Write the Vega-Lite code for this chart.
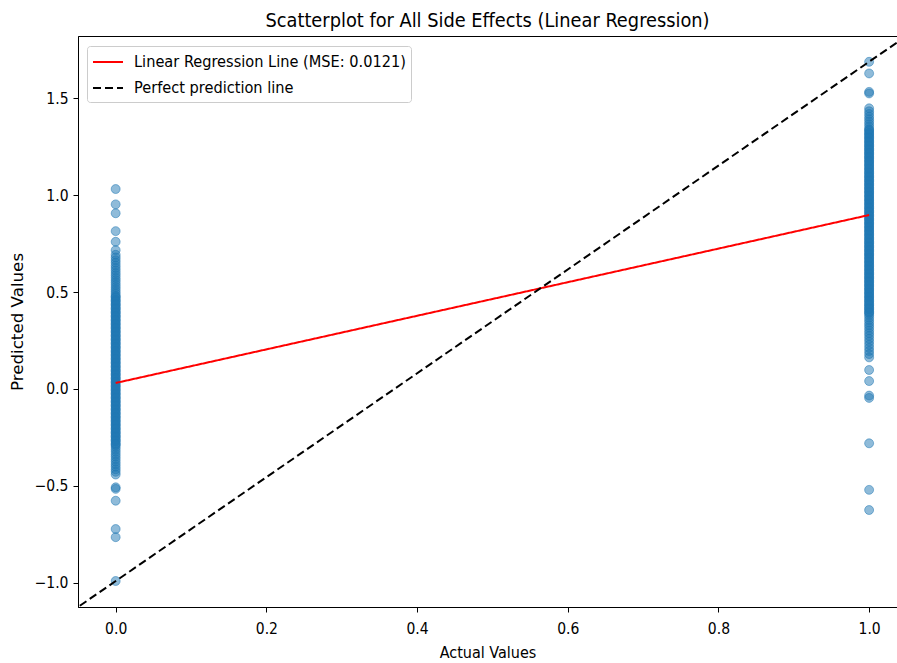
{
  "$schema": "https://vega.github.io/schema/vega-lite/v6.json",
  "width": 819,
  "height": 571,
  "autosize": {"type": "none"},
  "padding": {"left": 78, "top": 36, "right": 0, "bottom": 56},
  "background": "white",
  "config": {
    "font": "DejaVu Sans Condensed",
    "view": {"stroke": "#000", "strokeWidth": 1},
    "axis": {"grid": false, "domainColor": "#000", "tickColor": "#000", "labelColor": "#000", "titleColor": "#000", "titleFontWeight": "normal", "labelFont": "DejaVu Sans Condensed", "titleFont": "DejaVu Sans Condensed"}
  },
  "title": {"text": "Scatterplot for All Side Effects (Linear Regression)", "font": "DejaVu Sans Condensed", "fontSize": 19.8, "fontWeight": "normal", "color": "#000", "anchor": "middle", "baseline": "alphabetic", "offset": 10, "dy": 21},
  "datasets": {
    "points": [
      {"actual": 0, "predicted": 1.031}, {"actual": 0, "predicted": 0.952}, {"actual": 0, "predicted": 0.906}, {"actual": 0, "predicted": 0.814}, {"actual": 0, "predicted": 0.759}, {"actual": 0, "predicted": 0.716},
      {"actual": 0, "predicted": 0.692}, {"actual": 0, "predicted": 0.678}, {"actual": 0, "predicted": 0.664}, {"actual": 0, "predicted": 0.651}, {"actual": 0, "predicted": 0.637}, {"actual": 0, "predicted": 0.624}, {"actual": 0, "predicted": 0.611}, {"actual": 0, "predicted": 0.598}, {"actual": 0, "predicted": 0.586}, {"actual": 0, "predicted": 0.573}, {"actual": 0, "predicted": 0.561}, {"actual": 0, "predicted": 0.549}, {"actual": 0, "predicted": 0.537}, {"actual": 0, "predicted": 0.525}, {"actual": 0, "predicted": 0.513}, {"actual": 0, "predicted": 0.502}, {"actual": 0, "predicted": 0.491},
      {"actual": 0, "predicted": 0.48}, {"actual": 0, "predicted": 0.47}, {"actual": 0, "predicted": 0.46}, {"actual": 0, "predicted": 0.45}, {"actual": 0, "predicted": 0.44}, {"actual": 0, "predicted": 0.43}, {"actual": 0, "predicted": 0.42}, {"actual": 0, "predicted": 0.41}, {"actual": 0, "predicted": 0.40}, {"actual": 0, "predicted": 0.39}, {"actual": 0, "predicted": 0.38}, {"actual": 0, "predicted": 0.37}, {"actual": 0, "predicted": 0.36}, {"actual": 0, "predicted": 0.35}, {"actual": 0, "predicted": 0.34}, {"actual": 0, "predicted": 0.33}, {"actual": 0, "predicted": 0.32}, {"actual": 0, "predicted": 0.31}, {"actual": 0, "predicted": 0.30}, {"actual": 0, "predicted": 0.29}, {"actual": 0, "predicted": 0.28}, {"actual": 0, "predicted": 0.27}, {"actual": 0, "predicted": 0.26}, {"actual": 0, "predicted": 0.25}, {"actual": 0, "predicted": 0.24}, {"actual": 0, "predicted": 0.23}, {"actual": 0, "predicted": 0.22}, {"actual": 0, "predicted": 0.21}, {"actual": 0, "predicted": 0.20}, {"actual": 0, "predicted": 0.19}, {"actual": 0, "predicted": 0.18}, {"actual": 0, "predicted": 0.17}, {"actual": 0, "predicted": 0.16}, {"actual": 0, "predicted": 0.15}, {"actual": 0, "predicted": 0.14}, {"actual": 0, "predicted": 0.13}, {"actual": 0, "predicted": 0.12}, {"actual": 0, "predicted": 0.11}, {"actual": 0, "predicted": 0.10}, {"actual": 0, "predicted": 0.09}, {"actual": 0, "predicted": 0.08}, {"actual": 0, "predicted": 0.07}, {"actual": 0, "predicted": 0.06}, {"actual": 0, "predicted": 0.05}, {"actual": 0, "predicted": 0.04}, {"actual": 0, "predicted": 0.03}, {"actual": 0, "predicted": 0.02}, {"actual": 0, "predicted": 0.01}, {"actual": 0, "predicted": 0.0}, {"actual": 0, "predicted": -0.01}, {"actual": 0, "predicted": -0.02}, {"actual": 0, "predicted": -0.03}, {"actual": 0, "predicted": -0.04}, {"actual": 0, "predicted": -0.05}, {"actual": 0, "predicted": -0.06}, {"actual": 0, "predicted": -0.07}, {"actual": 0, "predicted": -0.08}, {"actual": 0, "predicted": -0.09}, {"actual": 0, "predicted": -0.10}, {"actual": 0, "predicted": -0.11}, {"actual": 0, "predicted": -0.12}, {"actual": 0, "predicted": -0.13}, {"actual": 0, "predicted": -0.14}, {"actual": 0, "predicted": -0.15}, {"actual": 0, "predicted": -0.16}, {"actual": 0, "predicted": -0.17}, {"actual": 0, "predicted": -0.18}, {"actual": 0, "predicted": -0.19}, {"actual": 0, "predicted": -0.20}, {"actual": 0, "predicted": -0.21}, {"actual": 0, "predicted": -0.22}, {"actual": 0, "predicted": -0.23}, {"actual": 0, "predicted": -0.24}, {"actual": 0, "predicted": -0.25}, {"actual": 0, "predicted": -0.26}, {"actual": 0, "predicted": -0.27}, {"actual": 0, "predicted": -0.28}, {"actual": 0, "predicted": -0.29}, {"actual": 0, "predicted": -0.30},
      {"actual": 0, "predicted": 0.475}, {"actual": 0, "predicted": 0.455}, {"actual": 0, "predicted": 0.435}, {"actual": 0, "predicted": 0.415}, {"actual": 0, "predicted": 0.395}, {"actual": 0, "predicted": 0.375}, {"actual": 0, "predicted": 0.355}, {"actual": 0, "predicted": 0.335}, {"actual": 0, "predicted": 0.315}, {"actual": 0, "predicted": 0.295}, {"actual": 0, "predicted": 0.275}, {"actual": 0, "predicted": 0.255}, {"actual": 0, "predicted": 0.235}, {"actual": 0, "predicted": 0.215}, {"actual": 0, "predicted": 0.195}, {"actual": 0, "predicted": 0.175}, {"actual": 0, "predicted": 0.155}, {"actual": 0, "predicted": 0.135}, {"actual": 0, "predicted": 0.115}, {"actual": 0, "predicted": 0.095}, {"actual": 0, "predicted": 0.075}, {"actual": 0, "predicted": 0.055}, {"actual": 0, "predicted": 0.035}, {"actual": 0, "predicted": 0.015}, {"actual": 0, "predicted": -0.005}, {"actual": 0, "predicted": -0.025}, {"actual": 0, "predicted": -0.045}, {"actual": 0, "predicted": -0.065}, {"actual": 0, "predicted": -0.085}, {"actual": 0, "predicted": -0.105}, {"actual": 0, "predicted": -0.125}, {"actual": 0, "predicted": -0.145}, {"actual": 0, "predicted": -0.165}, {"actual": 0, "predicted": -0.185}, {"actual": 0, "predicted": -0.205}, {"actual": 0, "predicted": -0.225}, {"actual": 0, "predicted": -0.245}, {"actual": 0, "predicted": -0.265}, {"actual": 0, "predicted": -0.285},
      {"actual": 0, "predicted": -0.312}, {"actual": 0, "predicted": -0.324}, {"actual": 0, "predicted": -0.337}, {"actual": 0, "predicted": -0.349}, {"actual": 0, "predicted": -0.362}, {"actual": 0, "predicted": -0.375}, {"actual": 0, "predicted": -0.388}, {"actual": 0, "predicted": -0.401}, {"actual": 0, "predicted": -0.414}, {"actual": 0, "predicted": -0.427}, {"actual": 0, "predicted": -0.441},
      {"actual": 0, "predicted": -0.507}, {"actual": 0, "predicted": -0.515}, {"actual": 0, "predicted": -0.576}, {"actual": 0, "predicted": -0.722}, {"actual": 0, "predicted": -0.764}, {"actual": 0, "predicted": -0.99},
      {"actual": 1, "predicted": 1.687}, {"actual": 1, "predicted": 1.627}, {"actual": 1, "predicted": 1.532}, {"actual": 1, "predicted": 1.524},
      {"actual": 1, "predicted": 1.447}, {"actual": 1, "predicted": 1.432}, {"actual": 1, "predicted": 1.418}, {"actual": 1, "predicted": 1.404}, {"actual": 1, "predicted": 1.391}, {"actual": 1, "predicted": 1.378}, {"actual": 1, "predicted": 1.365}, {"actual": 1, "predicted": 1.352}, {"actual": 1, "predicted": 1.34},
      {"actual": 1, "predicted": 1.33}, {"actual": 1, "predicted": 1.32}, {"actual": 1, "predicted": 1.31}, {"actual": 1, "predicted": 1.30}, {"actual": 1, "predicted": 1.29}, {"actual": 1, "predicted": 1.28}, {"actual": 1, "predicted": 1.27}, {"actual": 1, "predicted": 1.26}, {"actual": 1, "predicted": 1.25}, {"actual": 1, "predicted": 1.24}, {"actual": 1, "predicted": 1.23}, {"actual": 1, "predicted": 1.22}, {"actual": 1, "predicted": 1.21}, {"actual": 1, "predicted": 1.20}, {"actual": 1, "predicted": 1.19}, {"actual": 1, "predicted": 1.18}, {"actual": 1, "predicted": 1.17}, {"actual": 1, "predicted": 1.16}, {"actual": 1, "predicted": 1.15}, {"actual": 1, "predicted": 1.14}, {"actual": 1, "predicted": 1.13}, {"actual": 1, "predicted": 1.12}, {"actual": 1, "predicted": 1.11}, {"actual": 1, "predicted": 1.10}, {"actual": 1, "predicted": 1.09}, {"actual": 1, "predicted": 1.08}, {"actual": 1, "predicted": 1.07}, {"actual": 1, "predicted": 1.06}, {"actual": 1, "predicted": 1.05}, {"actual": 1, "predicted": 1.04}, {"actual": 1, "predicted": 1.03}, {"actual": 1, "predicted": 1.02}, {"actual": 1, "predicted": 1.01}, {"actual": 1, "predicted": 1.00}, {"actual": 1, "predicted": 0.99}, {"actual": 1, "predicted": 0.98}, {"actual": 1, "predicted": 0.97}, {"actual": 1, "predicted": 0.96}, {"actual": 1, "predicted": 0.95}, {"actual": 1, "predicted": 0.94}, {"actual": 1, "predicted": 0.93}, {"actual": 1, "predicted": 0.92}, {"actual": 1, "predicted": 0.91}, {"actual": 1, "predicted": 0.90}, {"actual": 1, "predicted": 0.89}, {"actual": 1, "predicted": 0.88}, {"actual": 1, "predicted": 0.87}, {"actual": 1, "predicted": 0.86}, {"actual": 1, "predicted": 0.85}, {"actual": 1, "predicted": 0.84}, {"actual": 1, "predicted": 0.83}, {"actual": 1, "predicted": 0.82}, {"actual": 1, "predicted": 0.81}, {"actual": 1, "predicted": 0.80}, {"actual": 1, "predicted": 0.79}, {"actual": 1, "predicted": 0.78}, {"actual": 1, "predicted": 0.77}, {"actual": 1, "predicted": 0.76}, {"actual": 1, "predicted": 0.75}, {"actual": 1, "predicted": 0.74}, {"actual": 1, "predicted": 0.73}, {"actual": 1, "predicted": 0.72}, {"actual": 1, "predicted": 0.71}, {"actual": 1, "predicted": 0.70}, {"actual": 1, "predicted": 0.69}, {"actual": 1, "predicted": 0.68}, {"actual": 1, "predicted": 0.67}, {"actual": 1, "predicted": 0.66}, {"actual": 1, "predicted": 0.65}, {"actual": 1, "predicted": 0.64}, {"actual": 1, "predicted": 0.63}, {"actual": 1, "predicted": 0.62}, {"actual": 1, "predicted": 0.61}, {"actual": 1, "predicted": 0.60}, {"actual": 1, "predicted": 0.59}, {"actual": 1, "predicted": 0.58}, {"actual": 1, "predicted": 0.57}, {"actual": 1, "predicted": 0.56}, {"actual": 1, "predicted": 0.55}, {"actual": 1, "predicted": 0.54}, {"actual": 1, "predicted": 0.53}, {"actual": 1, "predicted": 0.52}, {"actual": 1, "predicted": 0.51}, {"actual": 1, "predicted": 0.50}, {"actual": 1, "predicted": 0.49}, {"actual": 1, "predicted": 0.48}, {"actual": 1, "predicted": 0.47}, {"actual": 1, "predicted": 0.46}, {"actual": 1, "predicted": 0.45}, {"actual": 1, "predicted": 0.44}, {"actual": 1, "predicted": 0.43}, {"actual": 1, "predicted": 0.42}, {"actual": 1, "predicted": 0.41}, {"actual": 1, "predicted": 0.40}, {"actual": 1, "predicted": 0.39}, {"actual": 1, "predicted": 0.38},
      {"actual": 1, "predicted": 1.335}, {"actual": 1, "predicted": 1.315}, {"actual": 1, "predicted": 1.295}, {"actual": 1, "predicted": 1.275}, {"actual": 1, "predicted": 1.255}, {"actual": 1, "predicted": 1.235}, {"actual": 1, "predicted": 1.215}, {"actual": 1, "predicted": 1.195}, {"actual": 1, "predicted": 1.175}, {"actual": 1, "predicted": 1.155}, {"actual": 1, "predicted": 1.135}, {"actual": 1, "predicted": 1.115}, {"actual": 1, "predicted": 1.095}, {"actual": 1, "predicted": 1.075}, {"actual": 1, "predicted": 1.055}, {"actual": 1, "predicted": 1.035}, {"actual": 1, "predicted": 1.015}, {"actual": 1, "predicted": 0.995}, {"actual": 1, "predicted": 0.975}, {"actual": 1, "predicted": 0.955}, {"actual": 1, "predicted": 0.935}, {"actual": 1, "predicted": 0.915}, {"actual": 1, "predicted": 0.895}, {"actual": 1, "predicted": 0.875}, {"actual": 1, "predicted": 0.855}, {"actual": 1, "predicted": 0.835}, {"actual": 1, "predicted": 0.815}, {"actual": 1, "predicted": 0.795}, {"actual": 1, "predicted": 0.775}, {"actual": 1, "predicted": 0.755}, {"actual": 1, "predicted": 0.735}, {"actual": 1, "predicted": 0.715}, {"actual": 1, "predicted": 0.695}, {"actual": 1, "predicted": 0.675}, {"actual": 1, "predicted": 0.655}, {"actual": 1, "predicted": 0.635}, {"actual": 1, "predicted": 0.615}, {"actual": 1, "predicted": 0.595}, {"actual": 1, "predicted": 0.575}, {"actual": 1, "predicted": 0.555}, {"actual": 1, "predicted": 0.535}, {"actual": 1, "predicted": 0.515}, {"actual": 1, "predicted": 0.495}, {"actual": 1, "predicted": 0.475}, {"actual": 1, "predicted": 0.455}, {"actual": 1, "predicted": 0.435}, {"actual": 1, "predicted": 0.415}, {"actual": 1, "predicted": 0.395},
      {"actual": 1, "predicted": 0.368}, {"actual": 1, "predicted": 0.355}, {"actual": 1, "predicted": 0.342}, {"actual": 1, "predicted": 0.329}, {"actual": 1, "predicted": 0.316}, {"actual": 1, "predicted": 0.302}, {"actual": 1, "predicted": 0.288}, {"actual": 1, "predicted": 0.274}, {"actual": 1, "predicted": 0.259}, {"actual": 1, "predicted": 0.244}, {"actual": 1, "predicted": 0.228}, {"actual": 1, "predicted": 0.212}, {"actual": 1, "predicted": 0.196}, {"actual": 1, "predicted": 0.18}, {"actual": 1, "predicted": 0.163},
      {"actual": 1, "predicted": 0.098}, {"actual": 1, "predicted": 0.041}, {"actual": 1, "predicted": -0.034}, {"actual": 1, "predicted": -0.046}, {"actual": 1, "predicted": -0.28}, {"actual": 1, "predicted": -0.52}, {"actual": 1, "predicted": -0.624}
    ],
    "lines": [
      {"series": "Linear Regression Line (MSE: 0.0121)", "x": 0, "y": 0.031},
      {"series": "Linear Regression Line (MSE: 0.0121)", "x": 1, "y": 0.897},
      {"series": "Perfect prediction line", "x": -0.1, "y": -1.258},
      {"series": "Perfect prediction line", "x": 1.1, "y": 1.955}
    ]
  },
  "layer": [
    {
      "data": {"name": "points"},
      "mark": {"type": "circle", "size": 80, "color": "#1f77b4", "fillOpacity": 0.5, "stroke": "#1f77b4", "strokeOpacity": 0.5, "strokeWidth": 1, "clip": true},
      "encoding": {
        "x": {"field": "actual", "type": "quantitative", "scale": {"domain": [-0.05, 1.037], "nice": false, "zero": false},
              "axis": {"values": [0, 0.2, 0.4, 0.6, 0.8, 1.0], "format": ".1f", "title": "Actual Values", "tickSize": 5, "labelPadding": 9, "labelFontSize": 15.5, "titleFontSize": 16, "titleY": 45, "titleBaseline": "middle"}},
        "y": {"field": "predicted", "type": "quantitative", "scale": {"domain": [-1.124, 1.82], "nice": false, "zero": false},
              "axis": {"values": [-1.0, -0.5, 0.0, 0.5, 1.0, 1.5], "format": ".1f", "title": "Predicted Values", "tickSize": 5, "labelPadding": 5, "labelFontSize": 15.5, "titleFont": "DejaVu Sans", "titleFontSize": 16.7, "titleX": -61, "titleY": 285.5, "titleBaseline": "middle"}}
      }
    },
    {
      "data": {"name": "lines"},
      "mark": {"type": "line", "strokeWidth": 2, "clip": true},
      "encoding": {
        "x": {"field": "x", "type": "quantitative"},
        "y": {"field": "y", "type": "quantitative"},
        "detail": {"field": "series"},
        "color": {"field": "series", "type": "nominal",
                  "scale": {"domain": ["Linear Regression Line (MSE: 0.0121)", "Perfect prediction line"], "range": ["#ff0000", "#000000"]},
                  "legend": {"orient": "none", "legendX": 9, "legendY": 10, "title": null, "symbolType": "M-1.5,0H1.5", "symbolSize": 400, "symbolOffset": 5, "symbolStrokeWidth": 2, "labelFont": "DejaVu Sans Condensed", "labelFontSize": 16.2, "labelColor": "#000", "labelOffset": 15, "labelLimit": 0, "padding": 5, "rowPadding": 6, "strokeColor": "#cccccc", "fillColor": "rgba(255,255,255,0.8)", "cornerRadius": 3}},
        "strokeDash": {"field": "series", "type": "nominal",
                  "scale": {"domain": ["Linear Regression Line (MSE: 0.0121)", "Perfect prediction line"], "range": [[1, 0], [8, 4]]}}
      }
    }
  ]
}
